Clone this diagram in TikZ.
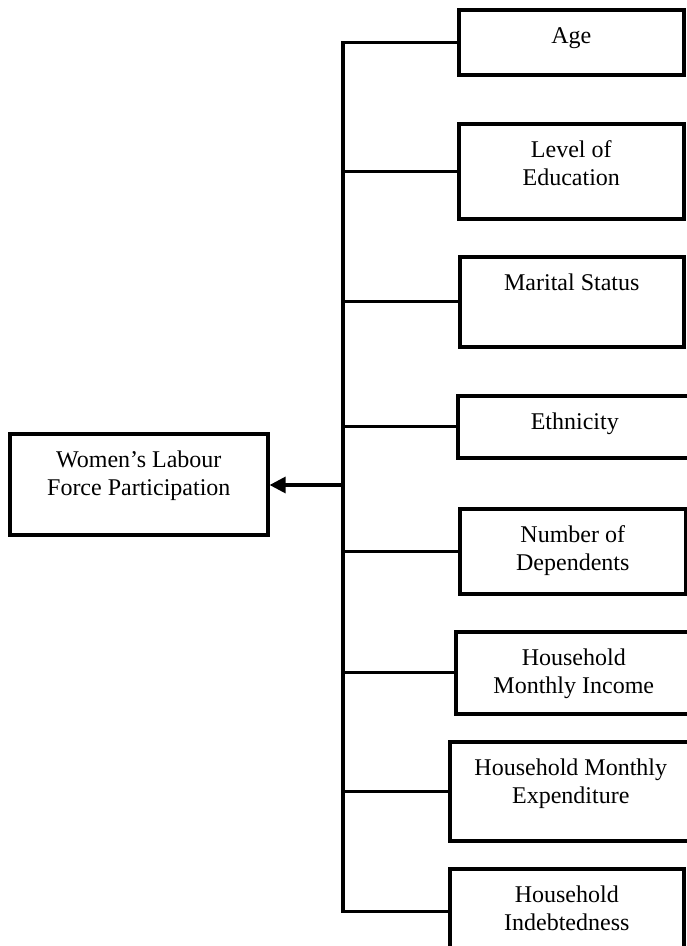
\documentclass[tikz,border=0pt]{standalone}
\usepackage{fontspec}
\setmainfont{Liberation Serif}
\usepackage{tikz}
\usetikzlibrary{arrows.meta,positioning}

\begin{document}
\begin{tikzpicture}[
  x=0.5pt, y=-0.5pt,
  box/.style={draw, line width=1.8pt, anchor=north west, align=center, inner xsep=4pt, inner ysep=9pt, text height=8pt, font=\fontsize{12}{14}\selectfont},
  twoline/.style={box, text height=22pt},
  link/.style={line width=1.6pt},
  arrow/.style={-{Triangle[length=8pt, width=8pt]}, line width=1.6pt}
]
\useasboundingbox (0,0) rectangle (686,946);
\node[twoline, minimum width=129pt, text depth=10.5pt] (wlfp) at (8,432) {Women’s Labour\\Force Participation};
\node[box, minimum width=112.5pt, text depth=6.5pt] (age) at (457,8) {Age};
\node[twoline, minimum width=112.5pt, text depth=7.5pt] (edu) at (457,122) {Level of\\Education};
\node[box, minimum width=112pt, text depth=19pt] (marital) at (458,255) {Marital Status};
\node[box, minimum width=117pt, text depth=5pt] (ethnic) at (456,394) {Ethnicity};
\node[twoline, minimum width=113pt, text depth=2.5pt] (depend) at (458,507) {Number of\\Dependents};
\node[twoline, minimum width=118pt, text depth=1pt] (income) at (454,630) {Household\\Monthly Income};
\node[twoline, minimum width=121pt, text depth=9.5pt] (expend) at (448,740) {Household Monthly\\Expenditure};
\node[twoline, minimum width=117pt, text depth=3pt] (indebt) at (448,867) {Household\\Indebtedness};
\coordinate (hub) at (343,485);
\draw[link] (age.west) -| (hub) |- (indebt.west);
\foreach \f in {edu,marital,ethnic,depend,income,expend}
  \draw[link] (\f.west) -- (\f.west -| hub);
\draw[arrow] (hub) -- (hub -| wlfp.east);
\end{tikzpicture}
\end{document}
